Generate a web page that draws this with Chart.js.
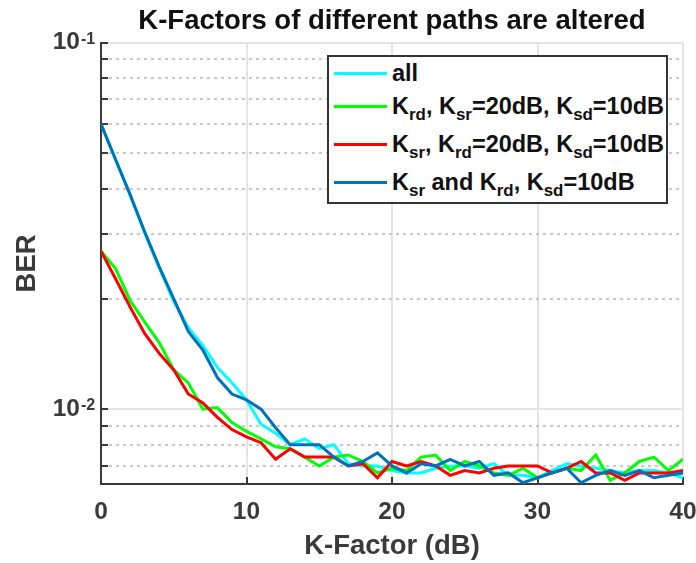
<!DOCTYPE html>
<html>
<head>
<meta charset="utf-8">
<script src="https://cdn.jsdelivr.net/npm/chart.js@4.4.1/dist/chart.umd.min.js"></script>
<style>
  body { margin: 0; background: #fff; }
  #wrap { position: relative; width: 696px; height: 563px; }
  #legend {
    position: absolute; left: 327px; top: 55px; width: 337px; height: 145px;
    border: 2px solid #333; background: #fff;
    font-family: 'Liberation Sans', Arial, sans-serif; font-weight: bold; font-size: 23.5px; color: #111;
  }
  .row { position: absolute; left: 0; height: 26px; display: flex; align-items: center; white-space: nowrap; }
  .swatch { display: inline-block; width: 53px; height: 3px; margin-left: 5px; margin-right: 5px; }
  .row sub { font-size: 72%; vertical-align: -0.35em; line-height: 0; }
</style>
</head>
<body>
<div id="wrap">
  <canvas id="berChart" width="696" height="563"></canvas>
  <div id="legend"></div>
</div>
<script>
// K-Factor (dB)
const kFactor = [0, 1, 2, 3, 4, 5, 6, 7, 8, 9, 10, 11, 12, 13, 14, 15, 16, 17, 18, 19, 20,
  21, 22, 23, 24, 25, 26, 27, 28, 29, 30, 31, 32, 33, 34, 35, 36, 37, 38, 39, 40];

// BER 값
const berAll = [0.060, 0.048, 0.0385, 0.0303, 0.0243, 0.0197, 0.0167, 0.0149, 0.0130, 0.0118, 0.0106,
  0.0091, 0.0086, 0.0080, 0.0083, 0.0078, 0.0080, 0.0071, 0.0070, 0.0070, 0.0068,
  0.0067, 0.0067, 0.0069, 0.0070, 0.0070, 0.0069, 0.0071, 0.0066, 0.0066, 0.0065,
  0.0068, 0.0071, 0.0070, 0.0069, 0.0068, 0.0067, 0.0068, 0.0068, 0.0067, 0.0065];
const berRd = [0.0270, 0.0242, 0.0198, 0.0173, 0.0152, 0.0128, 0.0118, 0.0100, 0.0101, 0.0092, 0.0087,
  0.0083, 0.0079, 0.0078, 0.0074, 0.0070, 0.0074, 0.0075, 0.0072, 0.0067, 0.0069,
  0.0068, 0.0074, 0.0075, 0.0068, 0.0072, 0.0070, 0.0067, 0.0066, 0.0069, 0.0065,
  0.0067, 0.0069, 0.0068, 0.0075, 0.0064, 0.0067, 0.0072, 0.0074, 0.0068, 0.0073];
const berSr = [0.0270, 0.0227, 0.0190, 0.0161, 0.0142, 0.0128, 0.0110, 0.0104, 0.0095, 0.0088, 0.0084,
  0.0081, 0.0073, 0.0078, 0.0074, 0.0074, 0.0074, 0.0070, 0.0071, 0.0065, 0.0072,
  0.0070, 0.0072, 0.0070, 0.0066, 0.0068, 0.0067, 0.0069, 0.0070, 0.0070, 0.0070,
  0.0067, 0.0069, 0.0072, 0.0067, 0.0067, 0.0064, 0.0067, 0.0067, 0.0067, 0.0068];
const berSrRd = [0.060, 0.048, 0.0385, 0.0305, 0.0245, 0.0200, 0.0163, 0.0145, 0.0122, 0.0110, 0.0106,
  0.0100, 0.0089, 0.0080, 0.0080, 0.0080, 0.0074, 0.0070, 0.0072, 0.0076, 0.0070,
  0.0067, 0.0071, 0.0070, 0.0073, 0.0070, 0.0072, 0.0066, 0.0067, 0.0063, 0.0065,
  0.0067, 0.0069, 0.0063, 0.0066, 0.0068, 0.0066, 0.0068, 0.0065, 0.0066, 0.0067];

// 눈금
const xTicks = [0, 10, 20, 30, 40];
const yTicks = [0.007, 0.008, 0.009, 0.01, 0.02, 0.03, 0.04, 0.05, 0.06, 0.07, 0.08, 0.09, 0.1];
const yMajor = { 0.01: '-2', 0.1: '-1' };   // 10의 지수

const seriesLabels = [
  'all',
  'K<sub>rd</sub>, K<sub>sr</sub>=20dB, K<sub>sd</sub>=10dB',
  'K<sub>sr</sub>, K<sub>rd</sub>=20dB, K<sub>sd</sub>=10dB',
  'K<sub>sr</sub> and K<sub>rd</sub>, K<sub>sd</sub>=10dB'
];
const seriesColors = ['#00ffff', '#00ff00', '#ff0000', '#0072bd'];
const seriesData = [berAll, berRd, berSr, berSrRd];

const axisColor = '#3a3a3a';
const font = 'Liberation Sans';

const datasets = seriesData.map((vals, i) => ({
  label: seriesLabels[i].replace(/<\/?sub>/g, ''),
  data: vals.map((v, j) => ({ x: kFactor[j], y: v })),
  borderColor: seriesColors[i],
  backgroundColor: seriesColors[i],
  borderWidth: 3,
  pointRadius: 0,
  tension: 0,
  order: 4 - i
}));

// y축 눈금 지수(위첨자) 그리기
const superscriptPlugin = {
  id: 'superscript',
  afterDraw(chart) {
    const y = chart.scales.y;
    const c = chart.ctx;
    c.save();
    c.fillStyle = axisColor;
    c.font = 'bold 16px ' + font;
    c.textAlign = 'left';
    c.textBaseline = 'alphabetic';
    Object.keys(yMajor).forEach(v => {
      const py = y.getPixelForValue(Number(v));
      c.fillText(yMajor[v], 81, py + 1);
    });
    c.restore();
  }
};

new Chart(document.getElementById('berChart'), {
  type: 'line',
  data: { datasets: datasets },
  plugins: [superscriptPlugin],
  options: {
    responsive: false,
    animation: false,
    layout: { padding: { right: 13 } },
    plugins: {
      legend: { display: false },
      tooltip: { enabled: false },
      title: {
        display: true,
        text: 'K-Factors of different paths are altered',
        fullSize: false,
        color: '#111',
        font: { family: font, size: 27.5, weight: 'bold' },
        padding: { top: 3, bottom: 5 }
      }
    },
    scales: {
      x: {
        type: 'linear',
        min: 0,
        max: 40,
        afterBuildTicks: scale => { scale.ticks = xTicks.map(v => ({ value: v })); },
        afterFit: scale => {
          scale.height = 79;
          scale.paddingLeft = 0;
          scale.paddingRight = 0;
        },
        ticks: { color: axisColor, font: { family: font, size: 24.5, weight: 'bold' }, padding: 21, maxRotation: 0 },
        grid: { color: '#e4e4e4', lineWidth: 2, tickLength: -7, tickColor: axisColor, tickWidth: 2 },
        border: { color: axisColor, width: 2 },
        title: {
          display: true,
          text: 'K-Factor (dB)',
          color: axisColor,
          font: { family: font, size: 27.5, weight: 'bold' },
          padding: { top: 0, bottom: 0 }
        }
      },
      y: {
        type: 'logarithmic',
        min: 0.00625,
        max: 0.1,
        afterBuildTicks: scale => { scale.ticks = yTicks.map(v => ({ value: v, major: v in yMajor })); },
        afterFit: scale => { scale.width = 101; },
        ticks: {
          autoSkip: false,
          color: axisColor,
          font: { family: font, size: 24.5, weight: 'bold' },
          padding: 28,
          callback: value => (value in yMajor) ? '10' : ''
        },
        grid: {
          color: ctx => (ctx.tick && ctx.tick.value in yMajor) ? '#e4e4e4' : '#c8c8c8',
          lineWidth: 2,
          tickLength: -7,
          tickColor: axisColor,
          tickWidth: 2
        },
        border: {
          color: axisColor,
          width: 2,
          dash: ctx => (ctx.tick && !(ctx.tick.value in yMajor)) ? [3, 4] : []
        },
        title: {
          display: true,
          text: 'BER',
          color: axisColor,
          font: { family: font, size: 27.5, weight: 'bold' },
          padding: { top: 11, bottom: 0 }
        }
      }
    }
  }
});

// 범례 (아래첨자 때문에 HTML로)
const legend = document.getElementById('legend');
const rowTops = [16, 49, 87, 125];
seriesLabels.forEach((label, i) => {
  const row = document.createElement('div');
  row.className = 'row';
  row.style.top = (rowTops[i] - 13) + 'px';
  row.innerHTML = '<span class="swatch" style="background:' + seriesColors[i] + '"></span><span>' + label + '</span>';
  legend.appendChild(row);
});
</script>
</body>
</html>
